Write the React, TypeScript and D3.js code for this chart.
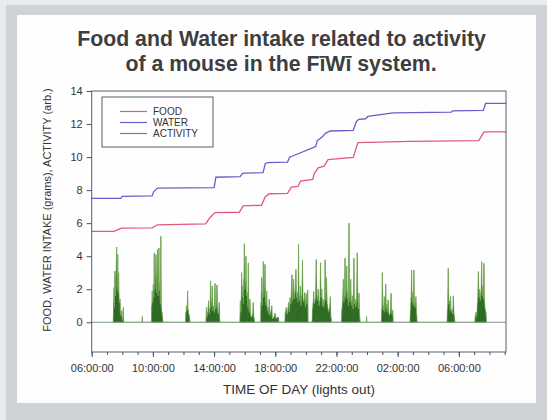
import React, { useRef, useEffect } from 'react';
import * as d3 from 'd3';

// hours since midnight of day 1 (values > 24 are next morning)
const foodHours = [6.0, 7.45, 7.95, 9.95, 10.3, 13.45, 13.7, 14.05, 15.65, 15.9, 17.1, 17.35, 17.6, 18.8, 19.05, 19.5, 19.65, 20.45, 20.55, 20.8, 21.2, 21.45, 23.1, 23.4, 26.8, 31.3, 31.65, 33.1];
const foodGrams = [5.5, 5.5, 5.7, 5.72, 5.9, 5.95, 6.3, 6.64, 6.66, 7.05, 7.08, 7.6, 7.78, 7.8, 8.18, 8.22, 8.55, 8.65, 9.0, 9.35, 9.45, 9.84, 9.98, 10.88, 10.95, 11.0, 11.52, 11.52];

const waterHours = [6.0, 7.9, 8.0, 9.95, 10.05, 10.3, 14.0, 14.12, 15.7, 15.85, 16.0, 17.2, 17.35, 17.5, 18.8, 18.95, 19.1, 20.55, 20.65, 20.75, 20.9, 21.1, 21.3, 21.6, 23.1, 23.3, 23.45, 23.9, 24.05, 25.7, 29.5, 29.6, 31.6, 31.75, 33.1];
const waterGrams = [7.5, 7.5, 7.62, 7.65, 7.9, 8.12, 8.15, 8.78, 8.82, 9.0, 9.03, 9.06, 9.6, 9.67, 9.7, 10.0, 10.05, 10.6, 10.65, 11.0, 11.1, 11.25, 11.45, 11.58, 11.62, 12.15, 12.28, 12.32, 12.46, 12.67, 12.72, 12.8, 12.83, 13.25, 13.25];

const activityHours = [
  7.40, 7.44, 7.46, 7.49, 7.52, 7.55, 7.58, 7.63, 7.66, 7.70, 7.73, 7.76, 7.80, 7.85, 7.88, 7.92, 7.96, 7.99, 8.04, 8.07, 8.09,
  9.29, 9.31, 9.33,
  9.90, 9.93, 9.96, 9.99, 10.03, 10.06, 10.09, 10.12, 10.15, 10.20, 10.23, 10.27, 10.31, 10.34, 10.39, 10.42, 10.46, 10.49, 10.52, 10.55, 10.59, 10.63, 10.67,
  12.13, 12.16, 12.20, 12.24, 12.27, 12.30, 12.35, 12.40, 12.43,
  13.46, 13.50, 13.53, 13.58, 13.64, 13.68, 13.73, 13.77, 13.80, 13.84, 13.88, 13.92, 13.97, 14.02, 14.06, 14.10, 14.14, 14.19, 14.23, 14.28, 14.34, 14.38,
  15.68, 15.72, 15.76, 15.80, 15.84, 15.88, 15.92, 15.95, 15.98, 16.01, 16.05, 16.08, 16.12, 16.16, 16.20, 16.24, 16.27, 16.31, 16.34, 16.40, 16.46, 16.52, 16.56, 16.60, 16.66,
  17.04, 17.07, 17.11, 17.14, 17.18, 17.22, 17.25, 17.29, 17.33, 17.36, 17.40, 17.44, 17.48, 17.53, 17.57, 17.61, 17.65, 17.70, 17.77, 17.81, 17.90, 17.99, 18.05, 18.12, 18.21, 18.25,
  18.62, 18.66, 18.72, 18.78, 18.87, 18.92, 18.97, 19.02, 19.09, 19.13, 19.20, 19.24, 19.30, 19.35, 19.39, 19.44, 19.48, 19.52, 19.56, 19.60, 19.64, 19.68, 19.73, 19.78, 19.82, 19.87, 19.92, 19.97, 20.02, 20.07, 20.12, 20.15,
  20.40, 20.44, 20.48, 20.51, 20.56, 20.62, 20.68, 20.72, 20.77, 20.81, 20.86, 20.91, 20.96, 21.00, 21.04, 21.08, 21.13, 21.18, 21.22, 21.26, 21.30, 21.35, 21.40, 21.45, 21.50, 21.55, 21.60, 21.64, 21.69,
  22.32, 22.36, 22.40, 22.45, 22.49, 22.53, 22.56, 22.60, 22.64, 22.67, 22.71, 22.75, 22.78, 22.82, 22.85, 22.89, 22.93, 22.97, 23.01, 23.05, 23.09, 23.14, 23.18, 23.22, 23.27, 23.31, 23.36, 23.40, 23.44, 23.47, 23.52, 23.55,
  23.95, 23.97, 23.99,
  24.93, 24.97, 25.00, 25.04, 25.08, 25.13, 25.17, 25.22, 25.26, 25.30, 25.34, 25.38, 25.43, 25.48, 25.53, 25.57, 25.61, 25.67, 25.72,
  26.80, 26.84, 26.88, 26.91, 26.95, 26.99, 27.03, 27.06, 27.10, 27.14, 27.19, 27.24, 27.28,
  29.22, 29.26, 29.31, 29.35, 29.39, 29.43, 29.46, 29.50, 29.55, 29.60, 29.64, 29.70, 29.75,
  31.04, 31.08, 31.12, 31.16, 31.22, 31.28, 31.32, 31.36, 31.40, 31.45, 31.49, 31.53, 31.57, 31.60, 31.64, 31.68, 31.72, 31.77, 31.81,
];
const activityLevels = [
  0, 1.2, 2.1, 0.9, 3.1, 1.6, 2.8, 4.55, 2.0, 4.1, 1.8, 3.0, 1.2, 1.4, 0.4, 0.6, 0.7, 0.1, 0.3, 0.9, 0,
  0, 0.35, 0,
  0, 1.0, 1.9, 1.2, 2.3, 1.5, 4.2, 2.0, 2.6, 4.1, 1.8, 2.9, 4.4, 1.6, 4.5, 1.9, 2.4, 1.1, 5.2, 0.9, 0.6, 0.3, 0,
  0, 0.6, 1.0, 0.7, 1.9, 0.8, 0.5, 0.3, 0,
  0, 0.9, 0.3, 0.6, 1.3, 0.5, 0.8, 2.5, 0.9, 1.2, 2.2, 0.7, 1.0, 0.6, 2.35, 0.8, 1.0, 2.25, 0.7, 0.5, 1.2, 0,
  0, 1.3, 0.6, 3.0, 1.5, 2.2, 1.1, 2.6, 4.75, 2.0, 2.5, 4.0, 1.6, 1.8, 0.9, 3.6, 0.8, 0.6, 1.4, 0.4, 0.3, 0.5, 1.2, 0.3, 0,
  0, 1.2, 2.7, 1.0, 1.8, 3.67, 1.5, 2.1, 3.5, 1.2, 1.0, 1.9, 0.7, 0.9, 0.5, 1.4, 0.4, 0.6, 1.0, 0.2, 0.3, 0.55, 0.2, 0.3, 0.3, 0,
  0, 0.6, 0.9, 0.5, 1.2, 0.6, 1.5, 1.1, 2.87, 1.3, 2.6, 1.4, 1.9, 3.2, 1.5, 1.8, 1.2, 4.75, 1.6, 1.3, 2.2, 1.0, 1.6, 3.76, 1.4, 1.2, 1.8, 0.9, 1.75, 1.1, 1.94, 0,
  0, 0.8, 1.2, 1.86, 1.1, 1.4, 3.8, 1.6, 1.3, 2.0, 1.0, 1.3, 3.6, 1.5, 2.0, 1.0, 1.4, 0.9, 1.2, 3.78, 1.3, 2.7, 1.1, 0.8, 0.6, 0.9, 1.55, 0.3, 0,
  0, 0.8, 1.3, 2.6, 1.2, 1.6, 3.88, 1.5, 1.9, 3.4, 1.4, 1.8, 1.0, 6.0, 1.5, 1.2, 2.6, 1.3, 1.0, 1.6, 0.8, 3.88, 1.1, 1.4, 0.9, 1.3, 4.2, 1.2, 0.8, 1.75, 0.3, 0,
  0, 0.35, 0,
  0, 0.8, 3.0, 1.0, 0.7, 1.55, 0.6, 2.3, 0.8, 1.1, 0.6, 1.35, 0.5, 0.4, 0.7, 1.75, 0.5, 0.75, 0,
  0, 0.7, 1.5, 3.17, 1.2, 1.8, 1.0, 3.17, 1.1, 0.9, 1.55, 0.5, 0,
  0, 0.8, 3.27, 1.1, 1.3, 0.7, 1.55, 0.6, 0.8, 0.5, 1.6, 0.4, 0,
  0, 0.4, 0.6, 0.3, 1.2, 3.07, 1.5, 2.0, 1.3, 1.8, 3.67, 1.6, 2.2, 1.4, 3.57, 1.2, 0.8, 0.6, 0,
];

const yTicks = [0, 2, 4, 6, 8, 10, 12, 14];
const seriesNames = ['FOOD', 'WATER', 'ACTIVITY'];
const seriesColors = ['#e3587c', '#6b5cc9', '#4f9a46'];

const FONT = "'Liberation Sans', Arial, sans-serif";
const base = Date.UTC(2000, 0, 1, 0);
const toDate = (h: number) => new Date(base + h * 3600e3);

const App = () => {
  const ref = useRef<SVGSVGElement>(null);

  useEffect(() => {
    if (!ref.current) return;
    const svg = d3.select(ref.current);
    svg.selectAll('*').remove();

    const W = 547, H = 420;
    const m = { left: 91.7, right: 506, top: 91, bottom: 352 };

    // frame
    svg.append('rect').attr('width', W).attr('height', H).attr('fill', '#e8eaec');
    svg.append('rect').attr('x', 6).attr('y', 5).attr('width', W - 6).attr('height', H - 5).attr('fill', '#cfd3d8');
    svg.append('rect').attr('x', 17).attr('y', 15).attr('width', 519).attr('height', 388).attr('fill', '#fefefe');

    // title
    const title = svg.append('text').attr('text-anchor', 'middle')
      .style('font-family', FONT).style('font-weight', 'bold').style('font-size', '21.3px').attr('fill', '#3e3e40');
    title.append('tspan').attr('x', 281.5).attr('y', 46).text('Food and Water intake related to activity');
    title.append('tspan').attr('x', 281).attr('y', 71).text('of a mouse in the FīWī system.');

    const x = d3.scaleUtc().domain([toDate(6), toDate(33 + 5 / 60)]).range([m.left, m.right]);
    const y = d3.scaleLinear().domain([-1.8, 14]).range([m.bottom, m.top]);

    const g = svg.append('g');

    // activity
    const act = activityHours.map((h, i) => ({ t: toDate(h), v: activityLevels[i] }));
    g.append('path').datum(act)
      .attr('d', d3.area<any>().x(d => x(d.t)).y0(y(0)).y1(d => y(d.v)))
      .attr('fill', '#3f7d31');
    g.selectAll('.spike').data(act.filter(d => d.v > 0)).join('line')
      .attr('x1', d => x(d.t)).attr('x2', d => x(d.t))
      .attr('y1', y(0)).attr('y2', d => y(d.v))
      .attr('stroke', '#2f6a26').attr('stroke-width', 0.8);
    g.append('path').datum(act)
      .attr('d', d3.line<any>().x(d => x(d.t)).y(d => y(d.v)))
      .attr('fill', 'none').attr('stroke', '#7fb45a').attr('stroke-width', 0.6);
    g.append('line').attr('x1', m.left).attr('x2', m.right).attr('y1', y(0)).attr('y2', y(0))
      .attr('stroke', '#7f9a80').attr('stroke-width', 1);

    // food & water
    const line = d3.line<any>().x(d => x(d.t)).y(d => y(d.v));
    g.append('path').datum(foodHours.map((h, i) => ({ t: toDate(h), v: foodGrams[i] })))
      .attr('d', line).attr('fill', 'none').attr('stroke', seriesColors[0]).attr('stroke-width', 1.3);
    g.append('path').datum(waterHours.map((h, i) => ({ t: toDate(h), v: waterGrams[i] })))
      .attr('d', line).attr('fill', 'none').attr('stroke', seriesColors[1]).attr('stroke-width', 1.3);

    // box
    svg.append('rect').attr('x', m.left).attr('y', m.top).attr('width', m.right - m.left).attr('height', m.bottom - m.top)
      .attr('fill', 'none').attr('stroke', '#5a5d6c').attr('stroke-width', 1);

    // axes
    const axisColor = '#4c4f5e';
    const yAxis = svg.append('g').attr('transform', `translate(${m.left},0)`)
      .call(d3.axisLeft(y).tickValues(yTicks).tickSize(5).tickPadding(4).tickFormat(d3.format('d')));
    const hours = d3.utcHour.every(1)!.range(toDate(6), toDate(33.2));
    const majors = hours.filter(d => d.getUTCHours() % 4 === 2);
    const xAxis = svg.append('g').attr('transform', `translate(0,${m.bottom})`)
      .call(d3.axisBottom(x).tickValues(majors).tickSize(5).tickPadding(7).tickFormat(d3.utcFormat('%H:%M:%S') as any));
    const xMinor = svg.append('g').attr('transform', `translate(0,${m.bottom})`)
      .call(d3.axisBottom(x).tickValues(hours).tickSize(3).tickFormat(() => ''));
    [yAxis, xAxis, xMinor].forEach(a => {
      a.select('.domain').remove();
      a.selectAll('line').attr('stroke', axisColor);
      a.selectAll('text').style('font-family', FONT).style('font-size', '11px').attr('fill', '#333');
    });

    // axis titles
    svg.append('text').attr('transform', `translate(51,210) rotate(-90)`)
      .attr('text-anchor', 'middle').style('font-family', FONT).style('font-size', '11px').attr('fill', '#333')
      .text('FOOD, WATER INTAKE (grams), ACTIVITY (arb.)');
    svg.append('text').attr('x', 299).attr('y', 394).attr('text-anchor', 'middle')
      .style('font-family', FONT).style('font-size', '13.5px').attr('fill', '#333')
      .text('TIME OF DAY (lights out)');

    // legend
    const lg = svg.append('g');
    lg.append('rect').attr('x', 102).attr('y', 97).attr('width', 111).attr('height', 50)
      .attr('fill', '#fff').attr('stroke', '#5a5d6c').attr('stroke-width', 1);
    seriesNames.forEach((name, i) => {
      const yy = 111.5 + i * 11;
      lg.append('line').attr('x1', 120).attr('x2', 147).attr('y1', yy).attr('y2', yy)
        .attr('stroke', seriesColors[i]).attr('stroke-width', 1.2);
      lg.append('text').attr('x', 153).attr('y', yy + 3.5).style('font-family', FONT).style('font-size', '10px')
        .attr('fill', '#333').text(name);
    });
  }, []);

  return <svg ref={ref} width={547} height={420} style={{ position: 'absolute', left: 0, top: 0, display: 'block' }} />;
};

export default App;
